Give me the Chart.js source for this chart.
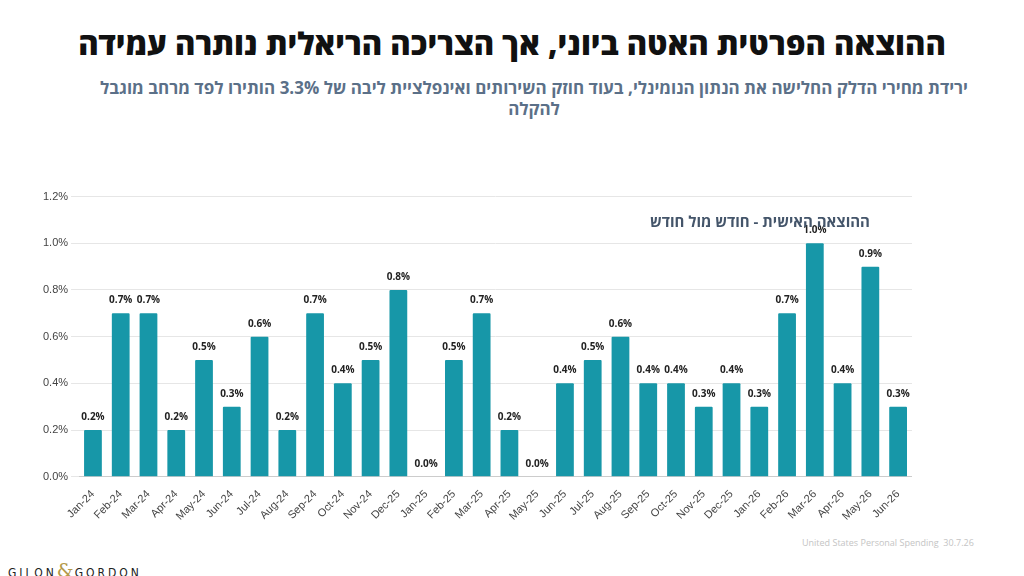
<!DOCTYPE html>
<html lang="he">
<head>
<meta charset="utf-8">
<script src="https://cdn.jsdelivr.net/npm/chart.js@4"></script>
<style>
  body { margin: 0; width: 1024px; height: 576px; background: #fff; font-family: "Open Sans", "Noto Sans", sans-serif; position: relative; overflow: hidden; }
  h1 { position: absolute; top: 22px; left: 0; width: 1024px; text-align: center; margin: 0; font-size: 31px; font-weight: 800; color: #111; direction: rtl; }
  .sub { position: absolute; top: 77px; right: 50px; width: 880px; text-align: center; direction: rtl; font-size: 17px; font-weight: 700; color: #5b7088; line-height: 21px; }
  .inner { position: absolute; top: 211px; left: 650px; direction: rtl; font-size: 15px; font-weight: 700; color: #44556a; }
  .src { position: absolute; top: 536px; left: 802px; font-size: 9px; color: #c4c4c4; }
  .logo { position: absolute; top: 559px; left: 8px; font-size: 12px; letter-spacing: 3px; color: #222; font-family: "DejaVu Sans Condensed", sans-serif; }
  .logo span { color: #b49a4a; font-family: "DejaVu Serif", serif; font-size: 19px; letter-spacing: 1px; }
  #wrap { position: absolute; left: 40px; top: 187px; width: 872px; height: 339px; }
</style>
</head>
<body>
<h1>ההוצאה הפרטית האטה ביוני, אך הצריכה הריאלית נותרה עמידה</h1>
<div class="sub">ירידת מחירי הדלק החלישה את הנתון הנומינלי, בעוד חוזק השירותים ואינפלציית ליבה של 3.3% הותירו לפד מרחב מוגבל להקלה</div>
<div id="wrap"><canvas id="chart"></canvas></div>
<div class="inner">ההוצאה האישית - חודש מול חודש</div>
<div class="src">United States Personal Spending &nbsp;30.7.26</div>
<div class="logo">GILON<span>&amp;</span>GORDON</div>
<script>
const months = ["Jan-24","Feb-24","Mar-24","Apr-24","May-24","Jun-24","Jul-24","Aug-24","Sep-24","Oct-24","Nov-24","Dec-25",
  "Jan-25","Feb-25","Mar-25","Apr-25","May-25","Jun-25","Jul-25","Aug-25","Sep-25","Oct-25","Nov-25","Dec-25",
  "Jan-26","Feb-26","Mar-26","Apr-26","May-26","Jun-26"];
const spendingMoM = [0.2,0.7,0.7,0.2,0.5,0.3,0.6,0.2,0.7,0.4,0.5,0.8,
  0.0,0.5,0.7,0.2,0.0,0.4,0.5,0.6,0.4,0.4,0.3,0.4,
  0.3,0.7,1.0,0.4,0.9,0.3];

// подписи значений над столбцами
const valueLabels = {
  id: "valueLabels",
  afterDatasetsDraw(chart) {
    const ctx = chart.ctx;
    const meta = chart.getDatasetMeta(0);
    ctx.save();
    ctx.font = "bold 10px 'Open Sans', sans-serif";
    ctx.fillStyle = "#222";
    ctx.textAlign = "center";
    meta.data.forEach((bar, i) => {
      ctx.fillText(spendingMoM[i].toFixed(1) + "%", bar.x, bar.y - 10);
    });
    ctx.restore();
  }
};

new Chart(document.getElementById("chart"), {
  type: "bar",
  data: {
    labels: months,
    datasets: [{
      data: spendingMoM,
      backgroundColor: "#1797a8",
      borderRadius: 1,
      categoryPercentage: 0.8,
      barPercentage: 0.8
    }]
  },
  options: {
    animation: false,
    responsive: true,
    maintainAspectRatio: false,
    plugins: { legend: { display: false }, tooltip: { enabled: false } },
    scales: {
      y: {
        min: 0, max: 1.2,
        ticks: { stepSize: 0.2, color: "#444", font: { size: 11 }, callback: v => v.toFixed(1) + "%" },
        grid: { color: "#e6e6e6" },
        border: { display: false }
      },
      x: {
        ticks: { color: "#444", font: { size: 11 }, maxRotation: 45, minRotation: 45, autoSkip: false },
        grid: { display: false },
        border: { color: "#ccc" }
      }
    }
  },
  plugins: [valueLabels]
});
</script>
</body>
</html>
